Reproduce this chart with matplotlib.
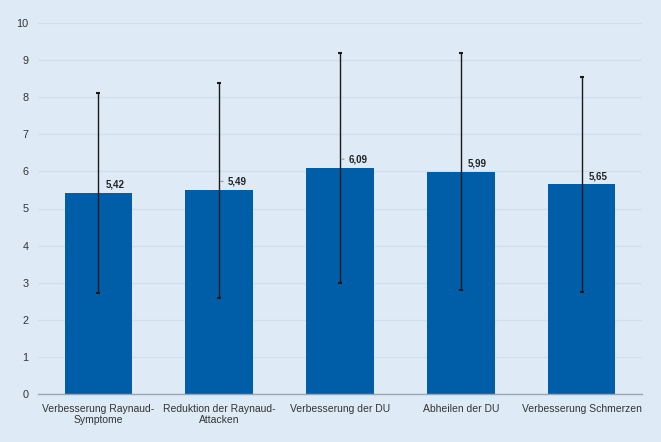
import numpy as np
import matplotlib.pyplot as plt

plt.rcParams['font.family'] = ['Liberation Sans', 'DejaVu Sans']

categories = ["Verbesserung Raynaud-\nSymptome", "Reduktion der Raynaud-\nAttacken",
              "Verbesserung der DU", "Abheilen der DU", "Verbesserung Schmerzen"]
means = [5.42, 5.49, 6.09, 5.99, 5.65]
errors = [2.70, 2.90, 3.10, 3.20, 2.90]
labels = ["5,42", "5,49", "6,09", "5,99", "5,65"]
leader = [False, True, True, False, False]

bg = "#deebf7"

fig = plt.figure(figsize=(6.61, 4.42), dpi=100, facecolor=bg)
ax = fig.add_axes([38 / 661, 48 / 442, 604 / 661, 371 / 442], facecolor=bg)

x = np.arange(len(categories))
ax.bar(x, means, width=0.56, color="#005ea8", zorder=2)
ax.errorbar(x, means, yerr=errors, fmt="none", ecolor="#1a1a1a", elinewidth=1.0,
            capsize=1.3, capthick=1.5, zorder=3)

for i, (m, lab) in enumerate(zip(means, labels)):
    if leader[i]:
        ax.annotate(lab, xy=(i + 0.01, m + 0.24), xytext=(5, 0), textcoords="offset points",
                    ha="left", va="center", fontsize=7, fontweight="bold", color="#222222",
                    arrowprops=dict(arrowstyle="-", color="#999999", lw=0.8,
                                    shrinkA=1, shrinkB=0), zorder=4)
    else:
        ax.annotate(lab, xy=(i, m), xytext=(5, 6), textcoords="offset points",
                    ha="left", va="center", fontsize=7, fontweight="bold", color="#222222",
                    zorder=4)

ax.set_xlim(-0.5, len(categories) - 0.5)
ax.set_ylim(0, 10)
ax.set_yticks(range(0, 11))
ax.set_xticks(x)
ax.set_xticklabels(categories, fontsize=7.5, color="#333333", linespacing=1.15)
ax.tick_params(axis="y", labelsize=7.8, labelcolor="#333333", length=0, pad=7)
ax.tick_params(axis="x", length=0, pad=7)
ax.grid(axis="y", color="#d0deed", lw=0.9, zorder=1)
for s in ["top", "right", "left"]:
    ax.spines[s].set_visible(False)
ax.spines["bottom"].set_color("#9aa5b0")
ax.spines["bottom"].set_linewidth(1.0)
ax.spines["bottom"].set_zorder(3)

fig.savefig("out.png", dpi=100, facecolor=bg)
